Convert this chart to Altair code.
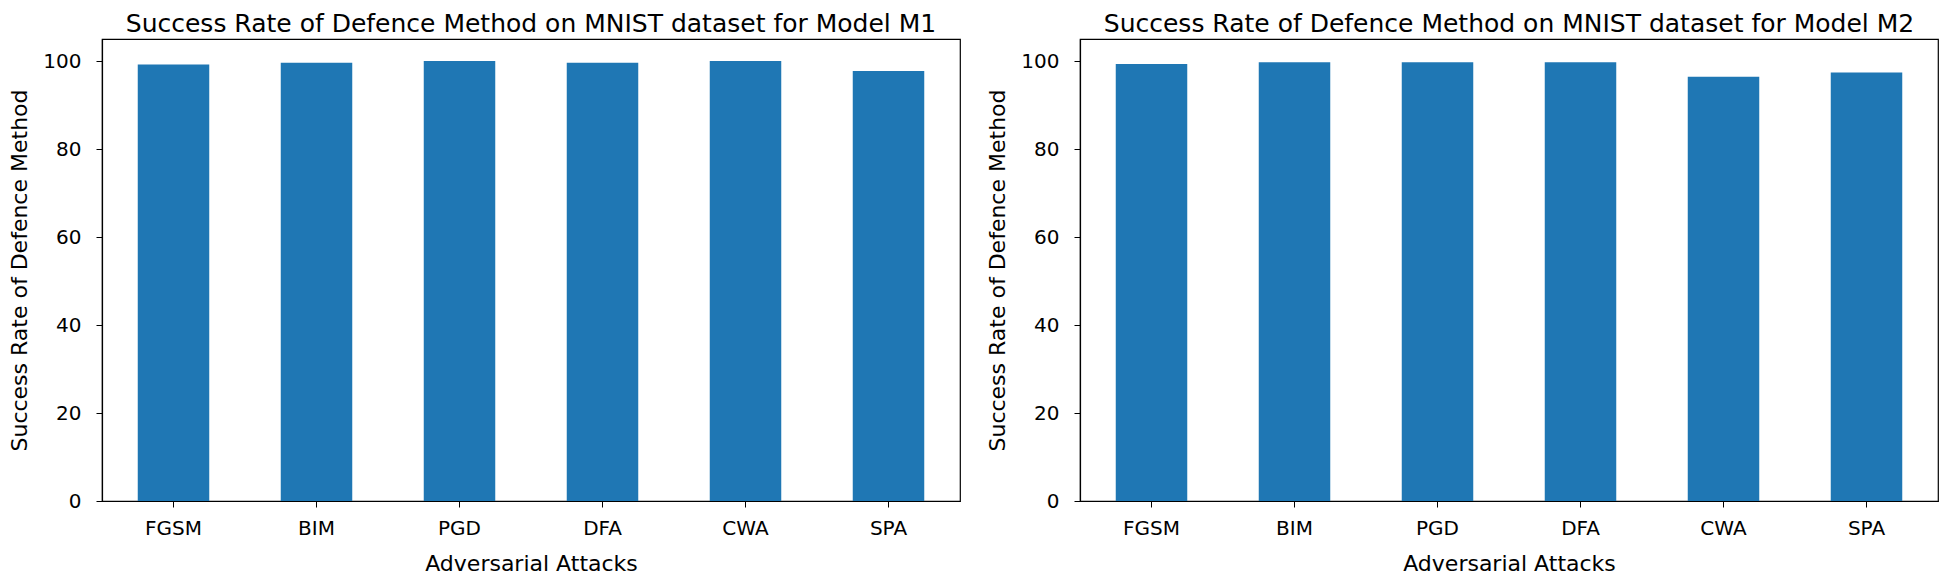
import altair as alt
import pandas as pd

attacks = ["FGSM", "BIM", "PGD", "DFA", "CWA", "SPA"]
m1_rates = [99.2, 99.6, 100.0, 99.6, 100.0, 97.7]
m2_rates = [99.3, 99.7, 99.7, 99.7, 96.4, 97.4]
y_ticks = [0, 20, 40, 60, 80, 100]

FONT = "DejaVu Sans"


def panel(rates, model):
    df = pd.DataFrame({"attack": attacks, "rate": rates})
    return (
        alt.Chart(df, title=alt.Title(
            f"Success Rate of Defence Method on MNIST dataset for Model {model}",
            fontSize=25, font=FONT, fontWeight="normal", color="#000", offset=2))
        .mark_bar(color="#1f77b4")
        .encode(
            x=alt.X("attack:N", sort=attacks, title="Adversarial Attacks",
                    scale=alt.Scale(paddingInner=0.5, paddingOuter=0.25),
                    axis=alt.Axis(labelAngle=0, labelFontSize=20, titleFontSize=22,
                                  labelPadding=11, titlePadding=15, tickSize=6)),
            y=alt.Y("rate:Q", title="Success Rate of Defence Method",
                    scale=alt.Scale(domain=[0, 105], nice=False),
                    axis=alt.Axis(values=y_ticks, labelFontSize=20, titleFontSize=22,
                                  labelPadding=15, titlePadding=11, tickSize=6)),
        )
        .properties(width=858, height=462)
    )


chart = (
    alt.hconcat(panel(m1_rates, "M1"), panel(m2_rates, "M2"), spacing=25)
    .properties(padding={"top": 3, "left": 0, "right": 0, "bottom": 0})
    .configure_view(stroke="#000", strokeWidth=1.2)
    .configure_axis(grid=False, domainColor="#000", tickColor="#000",
                    labelColor="#000", titleColor="#000", labelFont=FONT,
                    titleFont=FONT, titleFontWeight="normal", domainWidth=1.2)
)

chart.save("out.html", embed_options={"renderer": "svg", "actions": False})
